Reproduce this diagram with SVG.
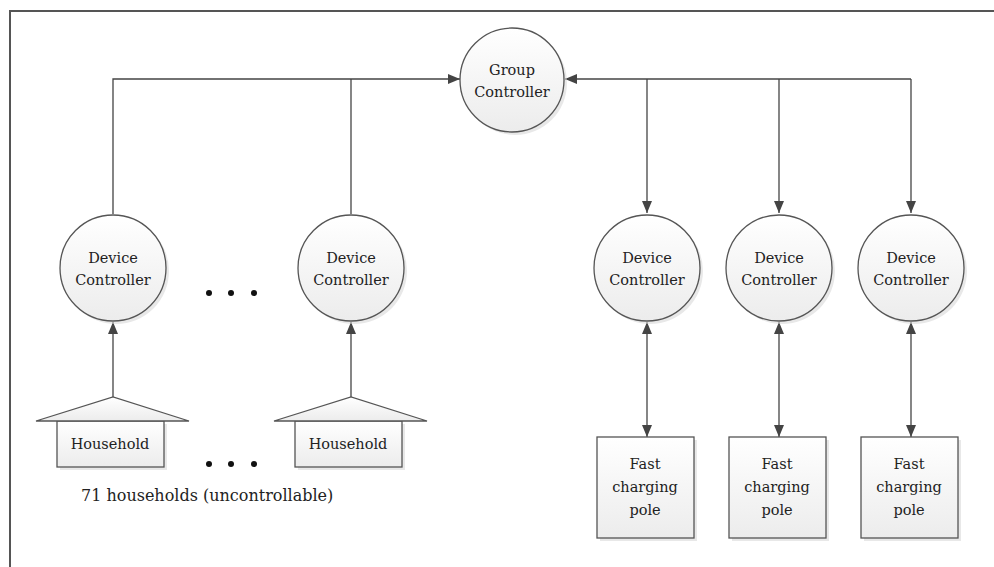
<svg xmlns="http://www.w3.org/2000/svg" width="994" height="567" viewBox="0 0 994 567">
  <style>
    .node { fill: url(#shade); stroke: #555; stroke-width: 1.3; }
    .shadow { fill: #d8d8d8; opacity: 0.6; }
    .label { font-size: 14.5px; fill: #222; text-anchor: middle; }
    .caption { font-size: 16px; fill: #222; }
    .wire { fill: none; stroke: #444; stroke-width: 1.3; }
    .dot { fill: #111; }
  </style>
  <defs>
    <linearGradient id="shade" x1="0" y1="0" x2="0" y2="1">
      <stop offset="0" stop-color="#ffffff"/>
      <stop offset="1" stop-color="#ececec"/>
    </linearGradient>
    <marker id="arrow" viewBox="0 0 12 10" refX="12" refY="5" markerWidth="12" markerHeight="10" markerUnits="userSpaceOnUse" orient="auto-start-reverse">
      <path d="M0,0 L12,5 L0,10 Z" fill="#444"/>
    </marker>
  </defs>

  <rect width="994" height="567" fill="#ffffff"/>
  <!-- frame -->
  <path d="M10,567 V11 H994" fill="none" stroke="#555" stroke-width="2"/>

  <!-- connectors -->
  <g id="connectors">
    <path class="wire" d="M113,214 V79 H460" marker-end="url(#arrow)"/>
    <path class="wire" d="M351,214 V79"/>
    <path class="wire" d="M911,79 H565" marker-end="url(#arrow)"/>
    <path class="wire" d="M647,79 V213" marker-end="url(#arrow)"/>
    <path class="wire" d="M779,79 V213" marker-end="url(#arrow)"/>
    <path class="wire" d="M911,79 V213" marker-end="url(#arrow)"/>
    <path class="wire" d="M113,397 V322" marker-end="url(#arrow)"/>
    <path class="wire" d="M351,397 V322" marker-end="url(#arrow)"/>
    <path class="wire" d="M647,322 V437" marker-start="url(#arrow)" marker-end="url(#arrow)"/>
    <path class="wire" d="M779,322 V437" marker-start="url(#arrow)" marker-end="url(#arrow)"/>
    <path class="wire" d="M911,322 V437" marker-start="url(#arrow)" marker-end="url(#arrow)"/>
  </g>

  <g font-family="DejaVu Serif, Liberation Serif, serif">
  <!-- group controller -->
  <g id="group-controller">
    <circle class="shadow" cx="515" cy="83" r="52"/>
    <circle class="node" cx="512" cy="80" r="52"/>
    <text class="label" x="512" y="75">Group</text>
    <text class="label" x="512" y="97">Controller</text>
  </g>

  <!-- device controllers -->
  <g id="dc-house-1">
    <circle class="shadow" cx="116" cy="271" r="53"/>
    <circle class="node" cx="113" cy="268" r="53"/>
    <text class="label" x="113" y="263">Device</text>
    <text class="label" x="113" y="285">Controller</text>
  </g>
  <g id="dc-house-2">
    <circle class="shadow" cx="354" cy="271" r="53"/>
    <circle class="node" cx="351" cy="268" r="53"/>
    <text class="label" x="351" y="263">Device</text>
    <text class="label" x="351" y="285">Controller</text>
  </g>
  <g id="dc-pole-1">
    <circle class="shadow" cx="650" cy="271" r="53"/>
    <circle class="node" cx="647" cy="268" r="53"/>
    <text class="label" x="647" y="263">Device</text>
    <text class="label" x="647" y="285">Controller</text>
  </g>
  <g id="dc-pole-2">
    <circle class="shadow" cx="782" cy="271" r="53"/>
    <circle class="node" cx="779" cy="268" r="53"/>
    <text class="label" x="779" y="263">Device</text>
    <text class="label" x="779" y="285">Controller</text>
  </g>
  <g id="dc-pole-3">
    <circle class="shadow" cx="914" cy="271" r="53"/>
    <circle class="node" cx="911" cy="268" r="53"/>
    <text class="label" x="911" y="263">Device</text>
    <text class="label" x="911" y="285">Controller</text>
  </g>

  <!-- households -->
  <g id="household-1">
    <rect class="shadow" x="60" y="424" width="107" height="46"/>
    <rect class="node" x="57" y="421" width="107" height="46"/>
    <polygon class="node" points="36,421 113,397 189,421"/>
    <text class="label" x="110" y="449">Household</text>
  </g>
  <g id="household-2">
    <rect class="shadow" x="298" y="424" width="107" height="46"/>
    <rect class="node" x="295" y="421" width="107" height="46"/>
    <polygon class="node" points="274,421 351,397 427,421"/>
    <text class="label" x="348" y="449">Household</text>
  </g>

  <!-- ellipses -->
  <g id="ellipsis-top">
    <circle class="dot" cx="209" cy="293" r="3"/>
    <circle class="dot" cx="231" cy="293" r="3"/>
    <circle class="dot" cx="254" cy="293" r="3"/>
  </g>
  <g id="ellipsis-bottom">
    <circle class="dot" cx="209" cy="464" r="3"/>
    <circle class="dot" cx="231" cy="464" r="3"/>
    <circle class="dot" cx="254" cy="464" r="3"/>
  </g>

  <!-- charging poles -->
  <g id="pole-1">
    <rect class="shadow" x="600" y="440" width="97" height="101"/>
    <rect class="node" x="597" y="437" width="97" height="101"/>
    <text class="label" x="645" y="469">Fast</text>
    <text class="label" x="645" y="492">charging</text>
    <text class="label" x="645" y="515">pole</text>
  </g>
  <g id="pole-2">
    <rect class="shadow" x="732" y="440" width="97" height="101"/>
    <rect class="node" x="729" y="437" width="97" height="101"/>
    <text class="label" x="777" y="469">Fast</text>
    <text class="label" x="777" y="492">charging</text>
    <text class="label" x="777" y="515">pole</text>
  </g>
  <g id="pole-3">
    <rect class="shadow" x="864" y="440" width="97" height="101"/>
    <rect class="node" x="861" y="437" width="97" height="101"/>
    <text class="label" x="909" y="469">Fast</text>
    <text class="label" x="909" y="492">charging</text>
    <text class="label" x="909" y="515">pole</text>
  </g>

  <text id="caption" class="caption" x="81" y="501">71 households (uncontrollable)</text>
  </g>
</svg>
